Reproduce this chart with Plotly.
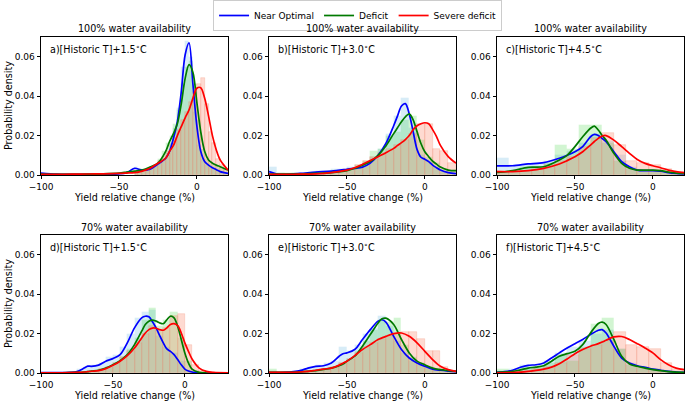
import plotly.graph_objects as go

# ---------------- DATA ----------------
SERIES = ["Near Optimal", "Deficit", "Severe deficit"]
ROW_TITLES = ["100% water availability", "70% water availability"]
PANEL_LABELS = ["a)[Historic T]+1.5<sup>∘</sup>C", "b)[Historic T]+3.0<sup>∘</sup>C", "c)[Historic T]+4.5<sup>∘</sup>C",
                "d)[Historic T]+1.5<sup>∘</sup>C", "e)[Historic T]+3.0<sup>∘</sup>C", "f)[Historic T]+4.5<sup>∘</sup>C"]
X_TICKS = [-100, -50, 0]
X_TICK_TEXT = ["−100", "−50", "0"]
Y_TICKS = [0.0, 0.02, 0.04, 0.06]
X_TITLE = "Yield relative change (%)"
Y_TITLE = "Probability density"
X_RANGES = [[-100, 20], [-100, 20], [-100, 20], [-100, 30], [-100, 20], [-100, 20]]

# --- panel a ---
A_X = [-100, -90, -80, -70, -60, -50, -45, -40, -35, -30, -25, -20, -17.5, -15, -12.5, -10, -7.5, -5, -2.5, 0, 2.5, 5, 7.5, 10, 12.5, 15, 20]
A_NEAR = [0.001, 0.0004, 0.0003, 0.0003, 0.0004, 0.0006, 0.0012, 0.0034, 0.0025, 0.003, 0.0055, 0.0085, 0.012, 0.0186, 0.027, 0.042, 0.061, 0.067, 0.046, 0.025, 0.012, 0.0068, 0.005, 0.0037, 0.0027, 0.0017, 0.0008]
A_DEF = [0.0005, 0.0003, 0.0003, 0.0004, 0.0006, 0.001, 0.0015, 0.002, 0.0025, 0.004, 0.006, 0.012, 0.017, 0.021, 0.026, 0.036, 0.049, 0.056, 0.052, 0.037, 0.022, 0.012, 0.0076, 0.006, 0.005, 0.0042, 0.0025]
A_SEV = [0.0003, 0.0003, 0.0004, 0.0005, 0.0006, 0.0008, 0.001, 0.0012, 0.002, 0.0034, 0.006, 0.0085, 0.012, 0.015, 0.02, 0.0245, 0.029, 0.033, 0.039, 0.044, 0.0443, 0.039, 0.030, 0.020, 0.0127, 0.0076, 0.0025]
A_BINS = [-38.75, -36.25, -33.75, -31.25, -28.75, -26.25, -23.75, -21.25, -18.75, -16.25, -13.75, -11.25, -8.75, -6.25, -3.75, -1.25, 1.25, 3.75, 6.25, 8.75, 11.25, 13.75, 16.25, 18.75]
A_BIN_W = 2.5
A_H_NEAR = [0.004, 0.003, 0.002, 0.003, 0.004, 0.005, 0.007, 0.008, 0.011, 0.016, 0.024, 0.034, 0.055, 0.068, 0.060, 0.032, 0.015, 0.008, 0.005, 0.004, 0.003, 0.002, 0.002, 0.001]
A_H_DEF = [0.002, 0.002, 0.003, 0.003, 0.004, 0.005, 0.008, 0.012, 0.016, 0.020, 0.026, 0.033, 0.046, 0.055, 0.058, 0.046, 0.028, 0.013, 0.008, 0.006, 0.005, 0.004, 0.004, 0.003]
A_H_SEV = [0.001, 0.002, 0.002, 0.003, 0.004, 0.005, 0.007, 0.009, 0.012, 0.015, 0.019, 0.023, 0.028, 0.032, 0.037, 0.042, 0.046, 0.049, 0.036, 0.022, 0.016, 0.008, 0.005, 0.003]

# --- panel b ---
B_X = [-100, -95, -90, -80, -70, -60, -50, -45, -40, -35, -30, -25, -20, -17.5, -15, -12.5, -10, -7.5, -5, -2.5, 0, 2.5, 5, 7.5, 10, 15, 20]
B_NEAR = [0.0017, 0.0005, 0.0003, 0.0008, 0.0015, 0.002, 0.0029, 0.0034, 0.004, 0.006, 0.010, 0.016, 0.025, 0.030, 0.035, 0.0362, 0.031, 0.022, 0.013, 0.009, 0.008, 0.0068, 0.005, 0.0037, 0.0025, 0.0012, 0.0007]
B_DEF = [0.0005, 0.0005, 0.0005, 0.0005, 0.0008, 0.0012, 0.0022, 0.0034, 0.005, 0.0068, 0.010, 0.0147, 0.021, 0.024, 0.027, 0.0295, 0.031, 0.028, 0.022, 0.016, 0.0118, 0.0093, 0.007, 0.0055, 0.004, 0.0025, 0.0022]
B_SEV = [0.0003, 0.0003, 0.0003, 0.0004, 0.0006, 0.0012, 0.0025, 0.0037, 0.0054, 0.0073, 0.0093, 0.0113, 0.0135, 0.015, 0.0164, 0.018, 0.020, 0.023, 0.025, 0.026, 0.0265, 0.026, 0.023, 0.0195, 0.015, 0.0093, 0.006]
B_BINS = [-97.5, -92.5, -87.5, -82.5, -77.5, -72.5, -67.5, -62.5, -57.5, -52.5, -47.5, -42.5, -37.5, -32.5, -27.5, -22.5, -17.5, -12.5, -7.5, -2.5, 2.5, 7.5, 12.5, 17.5]
B_BIN_W = 5
B_H_NEAR = [0.004, 0.001, 0.0005, 0.001, 0.001, 0.0015, 0.002, 0.002, 0.003, 0.003, 0.004, 0.004, 0.006, 0.009, 0.013, 0.021, 0.030, 0.039, 0.024, 0.010, 0.007, 0.004, 0.002, 0.001]
B_H_DEF = [0.0005, 0.0008, 0.0008, 0.001, 0.001, 0.001, 0.001, 0.0012, 0.0015, 0.002, 0.003, 0.005, 0.007, 0.012, 0.013, 0.020, 0.022, 0.028, 0.030, 0.018, 0.009, 0.006, 0.003, 0.002]
B_H_SEV = [0.0003, 0.0003, 0.0003, 0.0004, 0.0005, 0.0006, 0.0008, 0.001, 0.0015, 0.002, 0.003, 0.005, 0.007, 0.009, 0.011, 0.013, 0.015, 0.018, 0.021, 0.026, 0.026, 0.013, 0.012, 0.006]

# --- panel c ---
C_X = [-100, -90, -80, -70, -60, -55, -50, -45, -40, -37.5, -35, -32.5, -30, -25, -20, -15, -10, -5, 0, 5, 10, 15, 20]
C_NEAR = [0.0046, 0.0047, 0.0056, 0.0063, 0.0085, 0.010, 0.0118, 0.0144, 0.0194, 0.0206, 0.020, 0.0185, 0.0169, 0.0118, 0.0068, 0.0042, 0.0025, 0.0022, 0.0022, 0.0019, 0.0012, 0.0008, 0.0006]
C_DEF = [0.0013, 0.0022, 0.0039, 0.0042, 0.0076, 0.010, 0.0144, 0.0194, 0.0237, 0.0248, 0.0228, 0.020, 0.0177, 0.011, 0.0059, 0.0034, 0.0025, 0.0025, 0.0025, 0.0022, 0.0015, 0.001, 0.0008]
C_SEV = [0.0017, 0.0017, 0.0022, 0.0034, 0.0056, 0.0073, 0.0093, 0.0118, 0.0152, 0.017, 0.0186, 0.0198, 0.020, 0.0177, 0.0144, 0.011, 0.0079, 0.0059, 0.0047, 0.0037, 0.0025, 0.0017, 0.0012]
C_BINS = [-96.25, -88.75, -81.25, -73.75, -66.25, -58.75, -51.25, -43.75, -36.25, -28.75, -21.25, -13.75, -6.25, 1.25, 8.75, 16.25]
C_BIN_W = 7.5
C_H_NEAR = [0.0085, 0.005, 0.005, 0.006, 0.007, 0.010, 0.012, 0.016, 0.021, 0.017, 0.010, 0.004, 0.002, 0.002, 0.001, 0.001]
C_H_DEF = [0.001, 0.002, 0.004, 0.004, 0.006, 0.015, 0.013, 0.0255, 0.0255, 0.016, 0.007, 0.003, 0.0025, 0.0025, 0.0015, 0.001]
C_H_SEV = [0.002, 0.0015, 0.002, 0.003, 0.005, 0.007, 0.009, 0.014, 0.019, 0.0215, 0.015, 0.007, 0.006, 0.005, 0.003, 0.0015]

# --- panel d ---
D_X = [-100, -90, -80, -75, -70, -67.5, -65, -60, -55, -50, -45, -40, -35, -30, -27.5, -25, -22.5, -20, -17.5, -15, -12.5, -10, -7.5, -5, -2.5, 0, 2.5, 5, 10, 15, 20, 30]
D_NEAR = [0.0002, 0.0002, 0.0003, 0.0007, 0.0025, 0.0035, 0.0034, 0.004, 0.006, 0.0073, 0.0093, 0.0153, 0.0229, 0.028, 0.0288, 0.0285, 0.026, 0.0229, 0.019, 0.0153, 0.0122, 0.011, 0.0093, 0.0068, 0.0042, 0.002, 0.001, 0.0005, 0.0001, 0.0, 0.0, 0.0]
D_DEF = [0.0001, 0.0001, 0.0002, 0.0003, 0.0005, 0.0007, 0.001, 0.0014, 0.0025, 0.0042, 0.0063, 0.0093, 0.0144, 0.0212, 0.0246, 0.0263, 0.0268, 0.0263, 0.0254, 0.025, 0.027, 0.0288, 0.028, 0.0237, 0.017, 0.0102, 0.0051, 0.002, 0.0003, 0.0, 0.0, 0.0]
D_SEV = [0.0001, 0.0001, 0.0002, 0.0003, 0.0005, 0.0007, 0.0009, 0.0012, 0.0022, 0.0039, 0.006, 0.0088, 0.0127, 0.0178, 0.0203, 0.022, 0.0228, 0.0227, 0.022, 0.0217, 0.0229, 0.0246, 0.025, 0.024, 0.0203, 0.0153, 0.011, 0.0071, 0.0025, 0.0008, 0.0003, 0.0001]
D_BINS = [-97.5, -92.5, -87.5, -82.5, -77.5, -72.5, -67.5, -62.5, -57.5, -52.5, -47.5, -42.5, -37.5, -32.5, -27.5, -22.5, -17.5, -12.5, -7.5, -2.5, 2.5, 7.5, 12.5, 17.5, 22.5, 27.5]
D_BIN_W = 5
D_H_NEAR = [0, 0, 0, 0, 0.0005, 0.002, 0.003, 0.004, 0.005, 0.008, 0.009, 0.013, 0.020, 0.028, 0.031, 0.032, 0.019, 0.013, 0.010, 0.006, 0.001, 0, 0, 0, 0, 0]
D_H_DEF = [0, 0, 0, 0, 0, 0, 0.0003, 0.001, 0.002, 0.003, 0.005, 0.008, 0.012, 0.018, 0.027, 0.033, 0.024, 0.027, 0.031, 0.018, 0.006, 0.001, 0, 0, 0, 0]
D_H_SEV = [0, 0, 0, 0, 0, 0, 0.0003, 0.001, 0.002, 0.003, 0.005, 0.008, 0.011, 0.015, 0.020, 0.024, 0.022, 0.023, 0.029, 0.030, 0.014, 0.004, 0.001, 0, 0, 0]

# --- panel e ---
E_X = [-100, -90, -80, -75, -70, -65, -60, -55, -52.5, -50, -45, -40, -35, -30, -27.5, -25, -20, -15, -10, -5, 0, 5, 10, 15, 20]
E_NEAR = [0.0002, 0.0003, 0.0012, 0.0025, 0.0034, 0.0037, 0.0051, 0.0085, 0.0098, 0.0102, 0.0119, 0.017, 0.022, 0.0263, 0.027, 0.0258, 0.0186, 0.0119, 0.0076, 0.0051, 0.0034, 0.002, 0.0014, 0.001, 0.0007]
E_DEF = [0.0003, 0.0003, 0.0005, 0.0008, 0.0012, 0.0018, 0.0025, 0.0037, 0.0045, 0.006, 0.0085, 0.0136, 0.0195, 0.0254, 0.0275, 0.0278, 0.0246, 0.017, 0.0102, 0.006, 0.0042, 0.0025, 0.0017, 0.0012, 0.0008]
E_SEV = [0.0003, 0.0003, 0.0005, 0.0008, 0.0014, 0.002, 0.0025, 0.004, 0.005, 0.006, 0.0088, 0.0119, 0.0144, 0.017, 0.0178, 0.0186, 0.020, 0.0203, 0.0186, 0.0153, 0.011, 0.0068, 0.0034, 0.0017, 0.0008]
E_BINS = [-97.5, -92.5, -87.5, -82.5, -77.5, -72.5, -67.5, -62.5, -57.5, -52.5, -47.5, -42.5, -37.5, -32.5, -27.5, -22.5, -17.5, -12.5, -7.5, -2.5, 2.5, 7.5, 12.5, 17.5]
E_BIN_W = 5
E_H_NEAR = [0.001, 0, 0.0005, 0.001, 0.002, 0.003, 0.004, 0.005, 0.006, 0.013, 0.011, 0.014, 0.020, 0.023, 0.029, 0.024, 0.016, 0.010, 0.006, 0.004, 0.003, 0.002, 0.001, 0.001]
E_H_DEF = [0.002, 0.0005, 0.0005, 0.0005, 0.0008, 0.001, 0.0015, 0.002, 0.003, 0.005, 0.007, 0.011, 0.016, 0.022, 0.027, 0.026, 0.028, 0.014, 0.008, 0.005, 0.003, 0.002, 0.001, 0.001]
E_H_SEV = [0.0005, 0.0005, 0.0005, 0.0005, 0.0008, 0.001, 0.0015, 0.002, 0.003, 0.005, 0.007, 0.010, 0.013, 0.015, 0.017, 0.019, 0.020, 0.021, 0.021, 0.017, 0.011, 0.011, 0.003, 0.001]

# --- panel f ---
F_X = [-100, -90, -85, -80, -75, -70, -65, -60, -55, -50, -45, -40, -35, -32.5, -30, -25, -20, -15, -10, -5, 0, 5, 10, 15, 20]
F_NEAR = [0.0003, 0.0014, 0.0029, 0.0039, 0.0042, 0.0051, 0.0076, 0.0102, 0.0127, 0.0149, 0.017, 0.0195, 0.0217, 0.022, 0.0203, 0.0136, 0.0076, 0.0051, 0.0037, 0.0029, 0.002, 0.0014, 0.0008, 0.0005, 0.0003]
F_DEF = [0.0003, 0.0008, 0.0016, 0.0025, 0.003, 0.0037, 0.006, 0.0085, 0.0098, 0.011, 0.0144, 0.0203, 0.0251, 0.0258, 0.0246, 0.017, 0.0085, 0.0046, 0.0034, 0.0025, 0.0017, 0.0012, 0.0007, 0.0004, 0.0003]
F_SEV = [0.0001, 0.0002, 0.0004, 0.0008, 0.0013, 0.002, 0.003, 0.0047, 0.0071, 0.0098, 0.0119, 0.0136, 0.0149, 0.0157, 0.0166, 0.0183, 0.0185, 0.017, 0.0149, 0.0127, 0.0102, 0.0068, 0.0042, 0.0025, 0.0017]
F_BINS = [-96.25, -88.75, -81.25, -73.75, -66.25, -58.75, -51.25, -43.75, -36.25, -28.75, -21.25, -13.75, -6.25, 1.25, 8.75, 16.25]
F_BIN_W = 7.5
F_H_NEAR = [0.001, 0.002, 0.004, 0.004, 0.006, 0.010, 0.013, 0.016, 0.020, 0.022, 0.012, 0.005, 0.003, 0.002, 0.001, 0.0005]
F_H_DEF = [0.002, 0.001, 0.003, 0.003, 0.005, 0.009, 0.006, 0.013, 0.025, 0.028, 0.012, 0.004, 0.003, 0.002, 0.001, 0.0005]
F_H_SEV = [0.0005, 0.001, 0.001, 0.002, 0.003, 0.005, 0.009, 0.012, 0.014, 0.016, 0.021, 0.014, 0.013, 0.012, 0.005, 0.002]

PANELS = [
    (A_X, [A_NEAR, A_DEF, A_SEV], A_BINS, A_BIN_W, [A_H_NEAR, A_H_DEF, A_H_SEV]),
    (B_X, [B_NEAR, B_DEF, B_SEV], B_BINS, B_BIN_W, [B_H_NEAR, B_H_DEF, B_H_SEV]),
    (C_X, [C_NEAR, C_DEF, C_SEV], C_BINS, C_BIN_W, [C_H_NEAR, C_H_DEF, C_H_SEV]),
    (D_X, [D_NEAR, D_DEF, D_SEV], D_BINS, D_BIN_W, [D_H_NEAR, D_H_DEF, D_H_SEV]),
    (E_X, [E_NEAR, E_DEF, E_SEV], E_BINS, E_BIN_W, [E_H_NEAR, E_H_DEF, E_H_SEV]),
    (F_X, [F_NEAR, F_DEF, F_SEV], F_BINS, F_BIN_W, [F_H_NEAR, F_H_DEF, F_H_SEV]),
]

# ---------------- STYLE ----------------
W, H = 685, 404
LINE_COLORS = ["#0000ff", "#007a00", "#ff0000"]
BAR_COLORS = ["rgba(110,185,225,0.28)", "rgba(50,210,50,0.22)", "rgba(250,120,85,0.27)"]
BAR_EDGES = ["rgba(110,185,225,0.0)", "rgba(50,210,50,0.0)", "rgba(240,120,90,0.35)"]
FONT = "DejaVu Sans"
FS_TICK = 9
FS_TEXT = 9.6

# plot-area pixel boxes (left, right, top, bottom)
BOXES = [(41, 228, 37, 175), (269, 456, 37, 175), (497, 684, 37, 175),
         (41, 228, 235, 373), (269, 456, 235, 373), (497, 684, 235, 373)]

fig = go.Figure()
layout_axes = {}
annotations = []

for i, (px, curves, bins, bw, hists) in enumerate(PANELS):
    n = i + 1
    xa = "x" if n == 1 else f"x{n}"
    ya = "y" if n == 1 else f"y{n}"
    for s in range(3):
        fig.add_trace(go.Bar(x=bins, y=hists[s], width=bw, xaxis=xa, yaxis=ya,
                             marker=dict(color=BAR_COLORS[s], line=dict(width=0.6, color=BAR_EDGES[s])),
                             showlegend=False, hoverinfo="skip"))
    for s in range(3):
        fig.add_trace(go.Scatter(x=px, y=curves[s], mode="lines", xaxis=xa, yaxis=ya,
                                 line=dict(color=LINE_COLORS[s], width=1.7, shape="spline", smoothing=0.9),
                                 name=SERIES[s], showlegend=(i == 0)))
    l, r, t, b = BOXES[i]
    xkey = "xaxis" if n == 1 else f"xaxis{n}"
    ykey = "yaxis" if n == 1 else f"yaxis{n}"
    common = dict(showline=True, mirror=True, linecolor="black", linewidth=0.8,
                  ticks="outside", ticklen=3.5, tickwidth=0.8, tickcolor="black",
                  showgrid=False, zeroline=False, automargin=False,
                  tickfont=dict(family=FONT, size=FS_TICK, color="black"))
    layout_axes[xkey] = dict(domain=[l / W, r / W], range=X_RANGES[i], tickvals=X_TICKS,
                             ticktext=X_TICK_TEXT, anchor=ya, **common)
    layout_axes[ykey] = dict(domain=[1 - b / H, 1 - t / H], range=[0, 0.07], tickvals=Y_TICKS,
                             tickformat=".2f", anchor=xa, **common)
    # row title
    annotations.append(dict(text=ROW_TITLES[i // 3], xref="paper", yref="paper",
                            x=(l + r) / 2 / W, y=1 - (t - 8) / H, xanchor="center", yanchor="middle",
                            showarrow=False, font=dict(family=FONT, size=FS_TEXT, color="black")))
    # panel label
    annotations.append(dict(text=PANEL_LABELS[i], xref="paper", yref="paper",
                            x=(l + 7) / W, y=1 - (t + 12) / H, xanchor="left", yanchor="middle",
                            showarrow=False, font=dict(family=FONT, size=FS_TEXT, color="black")))
    # x title
    annotations.append(dict(text=X_TITLE, xref="paper", yref="paper",
                            x=(l + r) / 2 / W, y=1 - (b + 22) / H, xanchor="center", yanchor="middle",
                            showarrow=False, font=dict(family=FONT, size=FS_TEXT, color="black")))
    if i % 3 == 0:
        annotations.append(dict(text=Y_TITLE, xref="paper", yref="paper",
                                x=8 / W, y=1 - (t + b) / 2 / H, xanchor="center", yanchor="middle",
                                textangle=-90, showarrow=False,
                                font=dict(family=FONT, size=FS_TEXT, color="black")))

fig.update_layout(
    width=W, height=H, margin=dict(l=0, r=0, t=0, b=0, autoexpand=False),
    paper_bgcolor="white", plot_bgcolor="white",
    barmode="overlay", bargap=0,
    font=dict(family=FONT, size=FS_TICK, color="black"),
    legend=dict(orientation="h", x=0.522, xanchor="center", y=1.0, yanchor="top",
                bordercolor="#cccccc", borderwidth=1, bgcolor="white",
                font=dict(family=FONT, size=FS_TICK), itemwidth=30, tracegroupgap=0),
    annotations=annotations,
    **layout_axes,
)

fig.write_html("out.html", config={"displayModeBar": False},
               post_script="document.body.style.margin='0';document.body.style.overflow='hidden';")
